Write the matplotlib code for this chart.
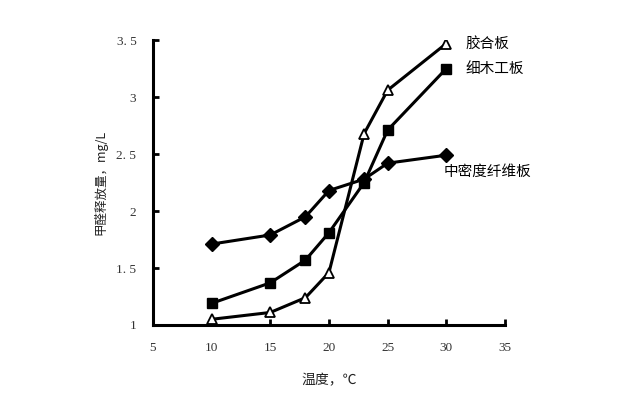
import matplotlib
matplotlib.use("Agg")
import matplotlib.pyplot as plt

plt.rcParams["font.family"] = ["Noto Sans CJK SC", "DejaVu Sans"]

TEMPS = [10, 15, 18, 20, 23, 25, 30]
MDF = [1.71, 1.79, 1.95, 2.18, 2.28, 2.42, 2.49]        # 中密度纤维板
BLOCKBOARD = [1.19, 1.37, 1.57, 1.81, 2.25, 2.71, 3.25]  # 细木工板
PLYWOOD = [1.05, 1.11, 1.24, 1.46, 2.68, 3.06, 3.47]     # 胶合板

X_TICKS = [5, 10, 15, 20, 25, 30, 35]
Y_TICKS = [1, 1.5, 2, 2.5, 3, 3.5]
Y_TICKLABELS = ["1", "1. 5", "2", "2. 5", "3", "3. 5"]

fig = plt.figure(figsize=(6.4, 4.07), dpi=100, facecolor="white")
ax = fig.add_axes([0.239, 0.2015, 0.55, 0.70])

line_kw = dict(color="black", linewidth=2.2, markersize=7)
ax.plot(TEMPS, MDF, marker="D", markerfacecolor="black", **line_kw)
ax.plot(TEMPS, BLOCKBOARD, marker="s", markerfacecolor="black", **line_kw)
ax.plot(TEMPS, PLYWOOD, marker="^", markerfacecolor="white",
        markeredgewidth=1.3, **line_kw)

ax.set_xlim(5, 35)
ax.set_ylim(1, 3.5)
ax.set_xticks(X_TICKS)
ax.set_yticks(Y_TICKS)
ax.set_yticklabels(Y_TICKLABELS)
ax.tick_params(direction="in", length=4, width=2, labelsize=9.5, pad=12,
               labelcolor="#333333")
for lab in ax.get_xticklabels() + ax.get_yticklabels():
    lab.set_family("Liberation Serif")

for side in ("top", "right"):
    ax.spines[side].set_visible(False)
for side in ("left", "bottom"):
    ax.spines[side].set_linewidth(2.2)

ax.set_xlabel("温度，℃", fontsize=10, labelpad=14, color="#222222")
ax.set_ylabel("甲醛释放量，mg/L", fontsize=9, labelpad=6, color="#222222")

ax.text(31.6, PLYWOOD[-1], "胶合板", fontsize=10.5, va="center", ha="left")
ax.text(31.6, BLOCKBOARD[-1], "细木工板", fontsize=10.5, va="center", ha="left")
ax.text(29.8, 2.34, "中密度纤维板", fontsize=10.5, va="center", ha="left")

fig.savefig("out.png", dpi=100, facecolor="white")
